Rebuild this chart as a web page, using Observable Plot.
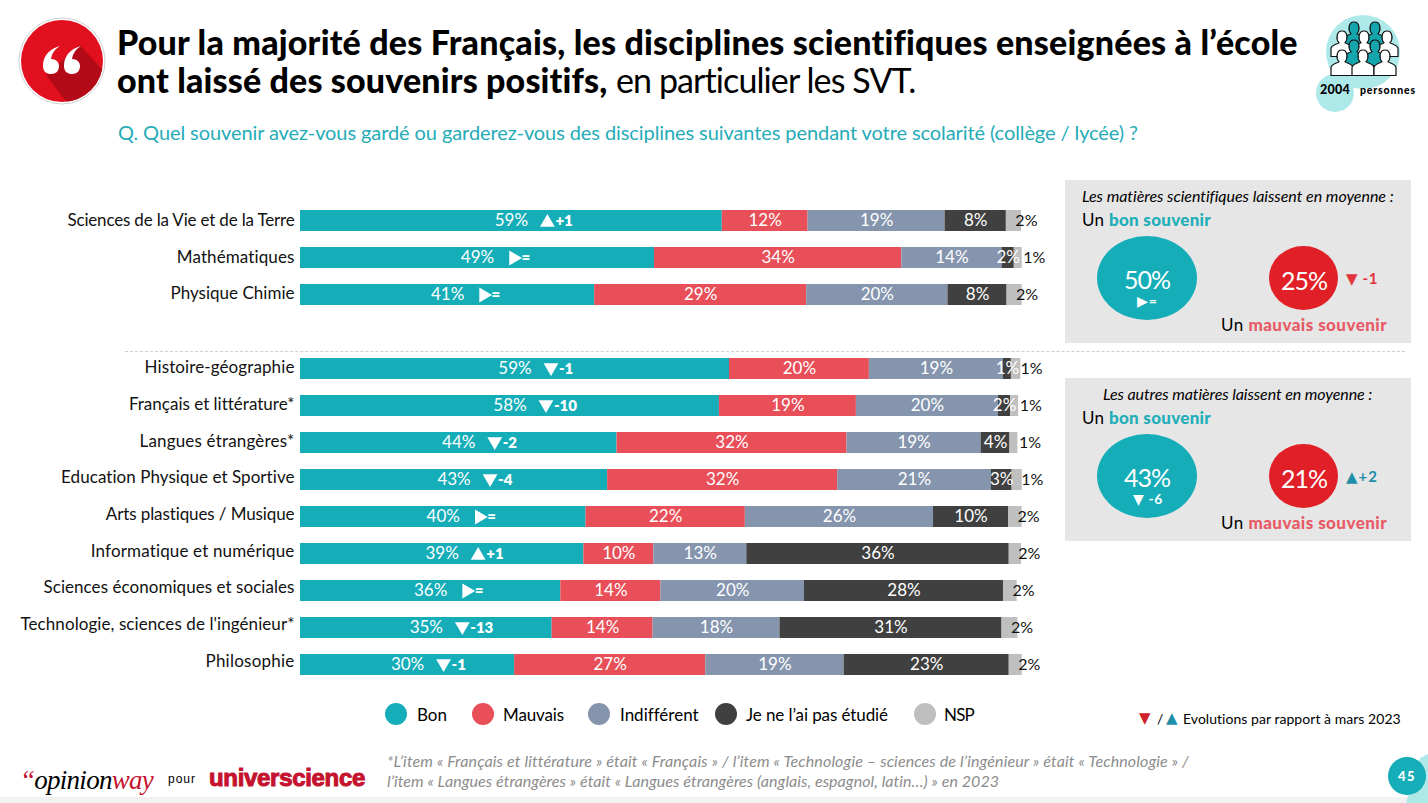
<!DOCTYPE html>
<html lang="fr">
<head>
<meta charset="utf-8">
<script src="https://cdn.jsdelivr.net/npm/d3@7"></script>
<script src="https://cdn.jsdelivr.net/npm/@observablehq/plot@0.6"></script>
<style>
html,body{margin:0;padding:0;background:#fff;width:1428px;height:803px;overflow:hidden}
body{position:relative;font-family:Lato,"Open Sans",sans-serif;color:#000}
#chart{position:absolute;left:0;top:0}
.t{position:absolute;white-space:nowrap;transform:translateY(-50%);line-height:1}
.c{position:absolute;border-radius:50%}
.p{position:absolute;background:#e6e6e6}
.tri{font-family:"DejaVu Sans"}
b.teal{color:#20aeb9;font-weight:900}
b.rose{color:#e75a66;font-weight:900}
</style>
</head>
<body>
<div id="chart"></div>
<div id="overlay"></div>
<script>
// ---------- data ----------
const subjects = ["Sciences de la Vie et de la Terre","Mathématiques","Physique Chimie"," ","Histoire-géographie","Français et littérature*","Langues étrangères*","Education Physique et Sportive","Arts plastiques / Musique","Informatique et numérique","Sciences économiques et sociales","Technologie, sciences de l'ingénieur*","Philosophie"];
const bon         = [58.5,49.1,40.8,0,59.5,58.1,43.9,42.6,39.6,39.3,36.1,34.9,29.7];
const mauvais     = [11.9,34.3,29.4,0,19.4,19.0,31.9,31.9,22.1,9.7,13.9,14.0,26.5];
const indifferent = [19.0,13.9,19.6,0,18.6,19.7,18.6,21.3,26.1,12.9,19.9,17.6,19.2];
const pasEtudie   = [8.5,1.7,8.2,0,1.1,1.7,4.0,2.9,10.4,36.4,27.6,30.8,22.9];
const nsp         = [2.1,1.1,2.1,0,1.3,1.1,1.1,1.4,1.9,1.7,1.9,2.2,1.8];
const lblBon         = [59,49,41,null,59,58,44,43,40,39,36,35,30];
const lblMauvais     = [12,34,29,null,20,19,32,32,22,10,14,14,27];
const lblIndifferent = [19,14,20,null,19,20,19,21,26,13,20,18,19];
const lblPasEtudie   = [8,2,8,null,1,2,4,3,10,36,28,31,23];
const lblNsp         = [2,1,2,null,1,1,1,1,2,2,2,2,2];
const evolutions = ["+1","=","=",null,"-1","-10","-2","-4","=","+1","=","-13","-1"];
const categories = ["Bon","Mauvais","Indifférent","Je ne l’ai pas étudié","NSP"];
const colours = ["#14adb8","#e84f59","#8595ae","#404040","#bfbfbf"];
const series = [bon,mauvais,indifferent,pasEtudie,nsp];
const labels = [lblBon,lblMauvais,lblIndifferent,lblPasEtudie,lblNsp];

const rows = [];
subjects.forEach((s,i)=>{
  if (lblBon[i]===null) return;
  let acc=0;
  series.forEach((v,k)=>{
    rows.push({subject:s,cat:categories[k],value:v[i],start:acc,mid:acc+v[i]/2,label:labels[k][i]+"%"});
    acc+=v[i];
  });
});
const evo = subjects.map((s,i)=>({subject:s,mid:bon[i]/2,e:evolutions[i]})).filter(d=>d.e);
const font = 'Lato,"Open Sans",sans-serif';
const tri = (sign,rotate,dy)=>Plot.dot(evo.filter(d=>d.e[0]===sign),{x:"mid",y:"subject",symbol:"triangle",r:5.5,dx:36,dy,rotate,fill:"white"});

const plot = Plot.plot({
  width:1428,height:803,
  marginLeft:300,marginRight:407,marginTop:193,marginBottom:110,
  x:{domain:[0,100],axis:null},
  y:{domain:subjects,padding:0.432,axis:null,label:null},
  color:{domain:categories,range:colours},
  style:{fontFamily:font,background:"transparent",overflow:"visible"},
  marks:[
    Plot.barX(rows,Plot.stackX({x:"value",y:"subject",fill:"cat",order:null})),
    Plot.text(rows.filter(d=>d.cat!=="NSP"),{x:"mid",y:"subject",text:"label",fill:"white",fontSize:17}),
    Plot.text(rows.filter(d=>d.cat==="NSP"),{x:"start",y:"subject",text:"label",fill:"#111",fontSize:16,textAnchor:"start",dx:9}),
    tri("+",0,1.5), tri("-",180,-1.5), tri("=",90,0),
    Plot.text(evo,{x:"mid",y:"subject",text:"e",fill:"white",fontSize:15,fontWeight:800,textAnchor:"start",dx:44}),
    Plot.axisY({ticks:subjects.filter(s=>s.trim()),tickSize:0,tickPadding:6,fontSize:17,fill:"#111",dy:-1,label:null})
  ]
});
document.getElementById("chart").appendChild(plot);

// ---------- surrounding page ----------
const moyennes = [
 {top:180,title:"Les matières scientifiques laissent en moyenne :",tx:1082,tw:311,bon:"50%",be:"▶=",bx:1137,bw:21,mauvais:"25%",me:"▼ -1",mc:"#e1333b"},
 {top:378,title:"Les autres matières laissent en moyenne :",tx:1103,tw:269,bon:"43%",be:"▼ -6",bx:1133,bw:30,mauvais:"21%",me:"▲+2",mc:"#1f8ea8"}
];
const legendX = [[396,417,30],[483,503,61],[599,620,78],[726,746,142],[925,944,30]];
const tickLabelWidths = [227,118,124,150,165,155,234,189,204,251,274,89];
const tickLabelShifts = [0.5,0.5,0,0,0,0,-1,-1,-1,-2,-2,-2];
let h = "";
const T=(x,y,size,w,html,extra="")=>`<div class="t" data-w="${w||""}" style="left:${x}px;top:${y}px;font-size:${size}px;${extra}">${html}</div>`;
h+=`<svg style="position:absolute;left:18px;top:17px" width="90" height="90"><defs><clipPath id="cc"><circle cx="44" cy="44" r="41"/></clipPath></defs>
<circle cx="44" cy="44" r="43" fill="#fff" stroke="#bbb" stroke-width=".7"/><circle cx="44" cy="44" r="41" fill="#e20f1f"/>
<path d="M28 58 L62 28 L100 70 L60 100 Z" fill="#b30a17" clip-path="url(#cc)"/>
<path d="M42 29 C32 32 25 38 25 49 C25 55 29 57 33 57 C38 57 41 54 41 49 C41 45 38 42 33 42 C34 36 37 32 42 29Z M63 29 C53 32 46 38 46 49 C46 55 50 57 54 57 C59 57 62 54 62 49 C62 45 59 42 54 42 C55 36 58 32 63 29Z" fill="#fff"/></svg>`;
h+=T(117,42,34,1181,"Pour la majorité des Français, les disciplines scientifiques enseignées à l’école","font-weight:900");
h+=T(117,80,34,491,"ont laissé des souvenirs positifs,","font-weight:900");
h+=T(616,80,34,300,"en particulier les SVT.");
h+=T(118,132,20,1020,"Q. Quel souvenir avez-vous gardé ou garderez-vous des disciplines suivantes pendant votre scolarité (collège / lycée) ?","color:#25acb7");
// people icon
const person=(x,y,f)=>`<g transform="translate(${x},${y}) scale(1,.85)" fill="${f}" stroke="#111" stroke-width="1.2"><path d="M-11 24 V15 C-11 11 -6 10 -3 8 C-6 4 -6 -6 0 -6 C6 -6 6 4 3 8 C6 10 11 11 11 15 V24 Z"/></g>`;
h+=`<svg style="position:absolute;left:1315px;top:10px" width="100" height="105">
<circle cx="48" cy="42" r="37" fill="#aee9ea"/><circle cx="20" cy="83" r="19" fill="#aee9ea"/>
${person(39,17,"#14a5ad")}${person(60,17,"#14a5ad")}
${person(27,26,"#fff")}${person(49,26,"#fff")}${person(72,26,"#fff")}
${person(39,35,"#14a5ad")}${person(60,35,"#14a5ad")}
${person(27,45,"#fff")}${person(48,45,"#fff")}${person(70,45,"#fff")}</svg>`;
h+=T(1320,90,12.5,30,"2004","font-weight:900");
h+=T(1360,90,10.5,56,"personnes","font-weight:900");
// separator
h+=`<div style="position:absolute;left:125px;top:351px;width:1280px;border-top:1px dashed #cfcfcf"></div>`;
// panels
moyennes.forEach(m=>{
  const y=m.top;
  h+=`<div class="p" style="left:1065px;top:${y}px;width:346px;height:163px"></div>`;
  h+=T(m.tx,y+16,16,m.tw,m.title,"font-style:italic");
  h+=T(1082,y+39,17,129,"Un <b class='teal'>bon souvenir</b>");
  h+=`<div class="c" style="left:1097px;top:${y+56}px;width:100px;height:84px;background:#14adb8"></div>`;
  h+=T(1124,y+99,25,46,m.bon,"color:#fff");
  h+=T(m.bx,y+121,14,m.bw,`<span class="tri">${m.be.slice(0,1)}</span><b>${m.be.slice(1)}</b>`,"color:#fff");
  h+=`<div class="c" style="left:1269px;top:${y+66}px;width:69px;height:64px;background:#e01f26"></div>`;
  h+=T(1281,y+100,25,46,m.mauvais,"color:#fff");
  h+=T(1346,y+99,15,32,`<span class="tri">${m.me.slice(0,1)}</span><b>${m.me.slice(1)}</b>`,`color:${m.mc}`);
  h+=T(1221,y+144,17,166,"Un <b class='rose'>mauvais souvenir</b>");
});
// legend
categories.forEach((c,i)=>{
  h+=`<div class="c" style="left:${legendX[i][0]-11}px;top:703px;width:22px;height:22px;background:${colours[i]}"></div>`;
  h+=T(legendX[i][1],714,17,legendX[i][2],c);
});
h+=T(1139,718,15,0,"▼","font-family:'DejaVu Sans';color:#d0202a");
h+=T(1157,719,14,0,"/");
h+=T(1166,718,15,0,"▲","font-family:'DejaVu Sans';color:#1f8ea8");
h+=T(1183,719,14,218,"Evolutions par rapport à mars 2023");
// footer
h+=T(387,761,16,801,"*L’item « Français et littérature » était « Français » / l’item « Technologie – sciences de l’ingénieur » était « Technologie » /","font-style:italic;color:#8c8c8c");
h+=T(387,781,16,612,"l’item « Langues étrangères » était «  Langues étrangères (anglais, espagnol, latin…) » en 2023","font-style:italic;color:#8c8c8c");
h+=T(20,780,27,133,"<span style='color:#c4122f'>“</span>opinion<span style='color:#c4122f'>way</span>","font-family:'Liberation Serif';font-style:italic");
h+=T(168,779,12,28,"pour","font-family:'Liberation Sans'");
h+=T(209,778,24,156,"universcience","font-family:'Liberation Sans';font-weight:700;color:#c4122f;-webkit-text-stroke:1px #c4122f");
// bottom strip and page number
h+=`<div style="position:absolute;left:0;top:797px;width:1428px;height:6px;background:#f2f2f2"></div>`;
h+=`<svg style="position:absolute;left:1380px;top:750px" width="48" height="53"><path d="M26 53 L48 53 L48 4 L40 8 Z" fill="#aee9ea"/><circle cx="27" cy="26" r="19" fill="#14adb8"/></svg>`;
h+=T(1398,776,13,18,"45","color:#fff;font-weight:900");
document.getElementById("overlay").innerHTML=h;
// fit each text line to the width it has in the reference
document.querySelectorAll("[data-w]").forEach(el=>{
  const w=+el.dataset.w; if(!w) return;
  const cur=el.getBoundingClientRect().width, n=el.textContent.length;
  el.style.letterSpacing=((w-cur)/n).toFixed(3)+"px";
});
plot.querySelectorAll('[aria-label="y-axis tick label"] text').forEach((el,i)=>{
  const cur=el.getComputedTextLength();
  el.style.letterSpacing=((tickLabelWidths[i]-cur)/el.textContent.length).toFixed(3)+"px";
  el.setAttribute("transform",(el.getAttribute("transform")||"")+` translate(0,${tickLabelShifts[i]})`);
});
</script>
</body>
</html>
